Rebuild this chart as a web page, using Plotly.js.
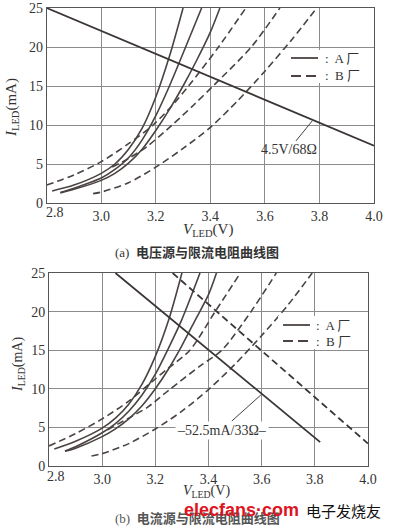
<!DOCTYPE html>
<html>
<head>
<meta charset="utf-8">
<script src="https://cdn.plot.ly/plotly-3.0.1.min.js"></script>
<style>
html,body{margin:0;padding:0;background:#fff;}
#chart{width:394px;height:528px;}
</style>
</head>
<body>
<div id="chart"></div>
<script>
// ---------- axes ----------
const xTicks = [2.8, 3.0, 3.2, 3.4, 3.6, 3.8, 4.0];
const xTickText = ["", "3.0", "3.2", "3.4", "3.6", "3.8", "4.0"];
const firstXLabel = "2.8";
const yTicks = [0, 5, 10, 15, 20, 25];

// ---------- data: plot (a) voltage source ----------
// Manufacturer A (solid)
const a_A1_V = [2.82, 2.9, 3.0, 3.05, 3.1, 3.15, 3.2, 3.25, 3.30];
const a_A1_I = [1.55, 2.3, 3.8, 5.0, 6.9, 9.6, 13.6, 18.8, 25];
const a_A2_V = [2.85, 2.9, 3.0, 3.05, 3.1, 3.15, 3.2, 3.25, 3.3, 3.368];
const a_A2_I = [1.35, 1.9, 3.2, 4.3, 5.8, 8.1, 11.2, 15.0, 19.2, 25];
const a_A3_V = [2.85, 2.9, 3.0, 3.05, 3.1, 3.15, 3.2, 3.25, 3.3, 3.35, 3.4, 3.435];
const a_A3_I = [1.3, 1.75, 2.9, 3.8, 5.1, 6.9, 9.3, 12.0, 15.0, 18.3, 21.9, 25];
// Manufacturer B (dashed)
const a_B1_V = [2.8, 2.9, 3.0, 3.1, 3.19, 3.26, 3.32, 3.43, 3.53];
const a_B1_I = [2.3, 3.6, 5.3, 7.6, 10, 12.5, 15, 20, 25];
const a_B2_V = [3.04, 3.1, 3.17, 3.26, 3.34, 3.41, 3.55, 3.655];
const a_B2_I = [4.6, 5.7, 7.3, 10, 12.6, 15, 20, 25];
const a_B3_V = [2.97, 3.0, 3.1, 3.2, 3.3, 3.4, 3.5, 3.6, 3.7, 3.79];
const a_B3_I = [1.2, 1.4, 2.6, 4.6, 7.0, 9.7, 13.1, 16.9, 21, 25];
// load line 4.5V/68Ω
const a_load_V = [2.8, 4.0];
const a_load_I = [25, 7.35];

// ---------- data: plot (b) current source ----------
const b_A1_V = [2.82, 2.9, 3.0, 3.05, 3.1, 3.15, 3.2, 3.25, 3.30];
const b_A1_I = [2.2, 3.2, 4.9, 6.2, 8.0, 10.6, 14.2, 18.9, 25];
const b_A2_V = [2.86, 2.9, 3.0, 3.05, 3.1, 3.15, 3.2, 3.25, 3.3, 3.368];
const b_A2_I = [1.95, 2.5, 4.3, 5.5, 7.1, 9.2, 11.9, 15.3, 19.0, 25];
const b_A3_V = [2.86, 2.9, 3.0, 3.05, 3.1, 3.15, 3.2, 3.25, 3.3, 3.35, 3.4, 3.43];
const b_A3_I = [1.9, 2.3, 3.8, 4.8, 6.1, 7.8, 10.0, 12.6, 15.6, 18.9, 22.2, 25];
const b_B1_V = [2.8, 2.9, 3.0, 3.1, 3.2, 3.25, 3.33, 3.425, 3.52];
const b_B1_I = [2.6, 4.2, 6.1, 8.4, 11.3, 12.7, 15, 20, 25];
const b_B2_V = [3.02, 3.1, 3.17, 3.25, 3.37, 3.45, 3.56, 3.655];
const b_B2_I = [4.7, 6.2, 7.6, 9.8, 13, 15, 20, 25];
const b_B3_V = [2.96, 3.0, 3.1, 3.2, 3.3, 3.4, 3.5, 3.6, 3.7, 3.79];
const b_B3_I = [1.3, 1.6, 2.9, 4.8, 7.1, 9.9, 13.2, 16.9, 20.9, 25];
// load lines 52.5mA/33Ω
const b_loadA_V = [3.05, 3.82];
const b_loadA_I = [25, 3.1];
const b_loadB_V = [3.265, 4.0];
const b_loadB_I = [25, 2.9];

// ---------- styling ----------
const curveColor = '#4a4341';
const loadColor = '#3b3535';
const dashPat = '7px,4px';
const serif = 'Liberation Serif, Times New Roman, serif';
const cjk = 'Noto Sans CJK SC, sans-serif';

function curve(V, I, xa, ya, dashed) {
  return {
    x: V, y: I, xaxis: xa, yaxis: ya, mode: 'lines', type: 'scatter',
    line: {color: curveColor, width: 1.6, shape: 'spline', smoothing: 0.8, dash: dashed ? dashPat : 'solid'},
    hoverinfo: 'skip', showlegend: false
  };
}
function load(V, I, xa, ya, dashed) {
  return {
    x: V, y: I, xaxis: xa, yaxis: ya, mode: 'lines', type: 'scatter',
    line: {color: loadColor, width: 1.8, dash: dashed ? dashPat : 'solid'},
    hoverinfo: 'skip', showlegend: false
  };
}

const traces = [
  curve(a_A1_V, a_A1_I, 'x', 'y', false),
  curve(a_A2_V, a_A2_I, 'x', 'y', false),
  curve(a_A3_V, a_A3_I, 'x', 'y', false),
  curve(a_B1_V, a_B1_I, 'x', 'y', true),
  curve(a_B2_V, a_B2_I, 'x', 'y', true),
  curve(a_B3_V, a_B3_I, 'x', 'y', true),
  load(a_load_V, a_load_I, 'x', 'y', false),
  curve(b_A1_V, b_A1_I, 'x2', 'y2', false),
  curve(b_A2_V, b_A2_I, 'x2', 'y2', false),
  curve(b_A3_V, b_A3_I, 'x2', 'y2', false),
  curve(b_B1_V, b_B1_I, 'x2', 'y2', true),
  curve(b_B2_V, b_B2_I, 'x2', 'y2', true),
  curve(b_B3_V, b_B3_I, 'x2', 'y2', true),
  load(b_loadA_V, b_loadA_I, 'x2', 'y2', false),
  load(b_loadB_V, b_loadB_I, 'x2', 'y2', true)
];

const W = 394, H = 528;
const px = v => v / W;
const py = v => 1 - v / H;

function xAxis(domain, anchor) {
  return {
    domain: domain, anchor: anchor, range: [2.8, 4.0],
    tickvals: xTicks, ticktext: xTickText, ticks: '',
    showgrid: true, gridcolor: '#8c8c8c', gridwidth: 1,
    showline: true, mirror: true, linecolor: '#555', linewidth: 1,
    zeroline: false, fixedrange: true,
    tickfont: {family: serif, size: 14, color: '#333'}
  };
}
function yAxis(domain, anchor) {
  return {
    domain: domain, anchor: anchor, range: [0, 25],
    tickvals: yTicks, ticks: '',
    showgrid: true, gridcolor: '#8c8c8c', gridwidth: 1,
    showline: true, mirror: true, linecolor: '#555', linewidth: 1,
    zeroline: false, fixedrange: true,
    tickfont: {family: serif, size: 14, color: '#333'}
  };
}

function legendShapes(x0, x1, yS, yD, bx0, bx1, by0, by1) {
  return [
    {type: 'rect', xref: 'paper', yref: 'paper', x0: px(bx0), x1: px(bx1), y0: py(by1), y1: py(by0),
     fillcolor: '#fff', line: {width: 0}, layer: 'above'},
    {type: 'line', xref: 'paper', yref: 'paper', x0: px(x0), x1: px(x1), y0: py(yS), y1: py(yS),
     line: {color: curveColor, width: 1.8}, layer: 'above'},
    {type: 'line', xref: 'paper', yref: 'paper', x0: px(x0), x1: px(x1), y0: py(yD), y1: py(yD),
     line: {color: curveColor, width: 1.8, dash: '10px,5px'}, layer: 'above'}
  ];
}

const shapes = [].concat(
  legendShapes(291, 318, 58, 76, 283, 372, 50, 83),
  legendShapes(283, 310, 325, 341, 278, 366, 316, 349)
);

function txt(text, x, y, size, opts) {
  return Object.assign({
    text: text, xref: 'paper', yref: 'paper', x: px(x), y: py(y),
    showarrow: false, xanchor: 'center', yanchor: 'middle',
    font: {family: serif, size: size, color: '#333'}
  }, opts || {});
}
const legFont = {family: serif + ',' + cjk, size: 13, color: '#333'};

const annotations = [
  // first x tick labels (shifted right as in the original)
  txt(firstXLabel, 55, 213, 14),
  txt(firstXLabel, 56, 476, 14),
  // axis titles
  txt('<i>I</i><sub>LED</sub>(mA)', 12, 108, 15, {textangle: -90}),
  txt('<i>V</i><sub>LED</sub>(V)', 208, 230, 15),
  txt('<i>I</i><sub>LED</sub>(mA)', 18, 365, 14, {textangle: -90}),
  txt('<i>V</i><sub>LED</sub>(V)', 206, 491, 14),
  // legends
  txt(':  A 厂', 323, 58, 13, {xanchor: 'left', font: legFont}),
  txt(':  B 厂', 323, 76, 13, {xanchor: 'left', font: legFont}),
  txt(':  A 厂', 314, 325, 13, {xanchor: 'left', font: legFont}),
  txt(':  B 厂', 314, 341, 13, {xanchor: 'left', font: legFont}),
  // load line labels
  {text: '4.5V/68Ω', xref: 'x', yref: 'y', x: 3.774, y: 10.55, axref: 'x', ayref: 'y', ax: 3.687, ay: 6.8,
   showarrow: true, arrowhead: 0, arrowwidth: 1, arrowcolor: '#444', standoff: 0,
   font: {family: serif, size: 14, color: '#333'}},
  {text: '–52.5mA/33Ω–', xref: 'x2', yref: 'y2', x: 3.597, y: 9.2, axref: 'x2', ayref: 'y2', ax: 3.45, ay: 4.66,
   showarrow: true, arrowhead: 0, arrowwidth: 1, arrowcolor: '#444', standoff: 0,
   font: {family: serif, size: 14, color: '#333'}, bgcolor: '#fff'},
  // captions
  txt('(a)  <b>电压源与限流电阻曲线图</b>', 197, 252, 13, {font: {family: serif + ',' + cjk, size: 13, color: '#333'}}),
  txt('(b)  <b>电流源与限流电阻曲线图</b>', 198, 518, 13, {font: {family: serif + ',' + cjk, size: 13, color: '#555'}}),
  // watermark
  txt('<b>elecfans·com</b>', 241, 510, 18, {font: {family: 'Liberation Sans, Arial, sans-serif', size: 18, color: '#e0141e'}}),
  txt('电子发烧友', 343, 510, 15, {font: {family: cjk, size: 15, color: '#111'}})
];

const layout = {
  width: W, height: H, autosize: false,
  margin: {l: 0, r: 0, t: 0, b: 0, pad: 0},
  paper_bgcolor: '#fff', plot_bgcolor: '#fff',
  showlegend: false,
  xaxis: xAxis([px(46.7), px(374)], 'y'),
  yaxis: yAxis([py(203), py(8)], 'x'),
  xaxis2: xAxis([px(49), px(368)], 'y2'),
  yaxis2: yAxis([py(466), py(273)], 'x2'),
  shapes: shapes,
  annotations: annotations
};

Plotly.newPlot('chart', traces, layout, {staticPlot: true, displayModeBar: false});
</script>
</body>
</html>
